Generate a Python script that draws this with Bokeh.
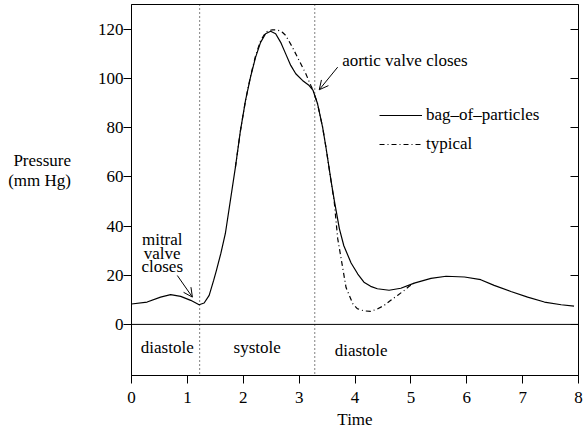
from bokeh.plotting import figure
from bokeh.models import (Span, Label, Arrow, OpenHead, LinearAxis, FixedTicker,
                          Legend, LegendItem, Range1d)
from bokeh.embed import file_html
from bokeh.resources import INLINE

# ---- data ----
bag_time = [0, 0.28, 0.52, 0.70, 0.88, 1.06, 1.21, 1.30, 1.39, 1.47, 1.52, 1.60,
            1.68, 1.86, 1.95, 2.04, 2.13, 2.22, 2.31, 2.40, 2.49, 2.58, 2.67, 2.76,
            2.85, 2.94, 3.06, 3.18, 3.25, 3.33, 3.42, 3.48, 3.57, 3.63, 3.72, 3.80,
            3.93, 4.05, 4.16, 4.28, 4.40, 4.61, 4.82, 5.06, 5.36, 5.63, 5.96, 6.25,
            6.49, 6.79, 7.09, 7.39, 7.69, 7.92]
bag_pressure = [8.3, 9.1, 11.1, 12.1, 11.4, 9.8, 8.0, 8.7, 11.8, 17.9, 22.0, 29.0,
                37.0, 64.0, 78.9, 91.1, 100.6, 108.7, 114.8, 118.3, 119.3, 118.3, 114.8, 110.1,
                105.4, 102.0, 99.3, 97.2, 95.2, 89.8, 80.3, 72.1, 58.6, 50.4, 39.0, 32.0,
                25.0, 20.5, 17.2, 15.5, 14.5, 13.9, 14.7, 16.8, 18.7, 19.6, 19.3, 18.2,
                15.9, 13.4, 11.1, 9.1, 8.0, 7.4]

typical_time = [1.86, 1.95, 2.04, 2.13, 2.22, 2.31, 2.40, 2.46, 2.52, 2.58, 2.64,
                2.70, 2.76, 2.88, 3.00, 3.12, 3.21, 3.25, 3.33, 3.42, 3.48, 3.57,
                3.63, 3.69, 3.75, 3.84, 3.96, 4.04, 4.16, 4.28, 4.40, 4.52, 4.64,
                4.76, 4.88, 4.97, 5.06]
typical_pressure = [64.0, 78.9, 91.1, 101.0, 109.3, 115.5, 118.8, 119.6, 119.9, 119.9, 119.6,
                    118.9, 117.6, 112.8, 107.4, 102.0, 97.2, 95.2, 89.8, 80.3, 72.1, 58.6,
                    49.5, 35.0, 27.0, 15.0, 8.4, 6.4, 5.5, 5.3, 6.3, 7.7, 9.8,
                    11.8, 13.8, 15.5, 16.8]

valve_times = [1.22, 3.28]
time_ticks = [0, 1, 2, 3, 4, 5, 6, 7, 8]
pressure_ticks = [0, 20, 40, 60, 80, 100, 120]
phase_labels = ["diastole", "systole", "diastole"]
series_labels = ["bag\u2013of\u2013particles", "typical"]

FONT = "Liberation Serif"
FS = "17px"

p = figure(width=584, height=431, x_range=Range1d(0, 8), y_range=Range1d(-20.8, 130.2),
           output_backend="svg", toolbar_location=None,
           min_border_left=131, min_border_right=6, min_border_top=4, min_border_bottom=56)
p.grid.visible = False
p.outline_line_color = "black"
p.outline_line_alpha = 1.0
p.background_fill_color = "white"
p.border_fill_color = "white"

for ax in (p.xaxis[0], p.yaxis[0]):
    ax.axis_line_color = "black"
    ax.major_tick_line_color = "black"
    ax.minor_tick_line_color = None
    ax.major_tick_in = 0
    ax.major_tick_out = 8
    ax.major_label_text_font = FONT
    ax.major_label_text_font_size = FS
    ax.major_label_text_color = "black"

p.xaxis.ticker = FixedTicker(ticks=time_ticks)
p.yaxis.ticker = FixedTicker(ticks=pressure_ticks)
p.xaxis.major_label_standoff = 8
p.yaxis.major_label_standoff = 0
p.xaxis.axis_label = "Time"
p.xaxis.axis_label_text_font = FONT
p.xaxis.axis_label_text_font_size = FS
p.xaxis.axis_label_text_font_style = "normal"
p.xaxis.axis_label_text_color = "black"
p.xaxis.axis_label_standoff = 4

# the two blank trailing lines lift the title above the frame's middle, as in the reference
p.yaxis.axis_label = "Pressure\n(mm Hg)\n\u00a0\n\u00a0"
p.yaxis.axis_label_orientation = "horizontal"
p.yaxis.axis_label_text_font = FONT
p.yaxis.axis_label_text_font_size = FS
p.yaxis.axis_label_text_font_style = "normal"
p.yaxis.axis_label_text_color = "black"
p.yaxis.axis_label_text_align = "center"
p.yaxis.axis_label_text_line_height = 1.05
p.yaxis.axis_label_standoff = 24

right = LinearAxis(ticker=FixedTicker(ticks=pressure_ticks), major_tick_in=8, major_tick_out=0,
                   minor_tick_line_color=None,
                   major_label_overrides={t: "" for t in pressure_ticks},
                   major_label_standoff=0, axis_line_color="black", major_tick_line_color="black")
p.add_layout(right, "right")

# zero line and valve lines
p.add_layout(Span(location=0, dimension="width", line_color="black", line_width=1))
for t in valve_times:
    p.add_layout(Span(location=t, dimension="height", line_color="black",
                      line_width=1, line_dash="1 3"))

r1 = p.line(bag_time, bag_pressure, line_color="black", line_width=1.2)
r2 = p.line(typical_time, typical_pressure, line_color="black", line_width=1.2,
            line_dash="5 3 1 3")

legend = Legend(items=[LegendItem(label=series_labels[0], renderers=[r1]),
                       LegendItem(label=series_labels[1], renderers=[r2])],
                location=(248, 221), padding=0, margin=0, spacing=9,
                glyph_width=43, glyph_height=20, label_height=20, label_standoff=4,
                label_text_font=FONT, label_text_font_size=FS, label_text_color="black",
                background_fill_alpha=0, border_line_color=None)
p.add_layout(legend)

def lab(x, y, text, align="center"):
    p.add_layout(Label(x=x, y=y, text=text, text_font=FONT, text_font_size=FS,
                       text_color="black", text_align=align, text_baseline="middle"))

# phase labels
lab(0.64, -9.6, phase_labels[0])
lab(2.25, -9.6, phase_labels[1])
lab(4.11, -10.6, phase_labels[2])

# annotations
lab(3.77, 107.4, "aortic valve closes", align="left")
lab(0.55, 34.5, "mitral")
lab(0.55, 29.0, "valve")
lab(0.55, 23.6, "closes")

p.add_layout(Arrow(x_start=3.69, y_start=104.7, x_end=3.36, y_end=95.5, line_width=1,
                   line_color="black",
                   end=OpenHead(size=9, line_width=1, line_color="black")))
p.add_layout(Arrow(x_start=0.82, y_start=19.9, x_end=1.09, y_end=11.1, line_width=1,
                   line_color="black",
                   end=OpenHead(size=9, line_width=1, line_color="black")))

open("out.html", "w").write(file_html(p, INLINE))
